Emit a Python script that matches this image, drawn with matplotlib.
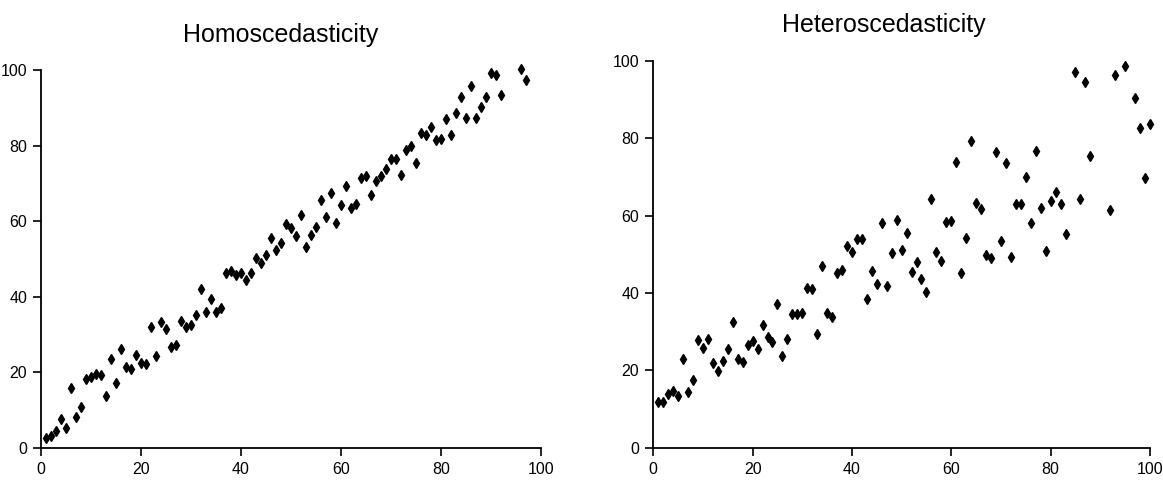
import matplotlib
matplotlib.use('Agg')
import matplotlib.pyplot as plt
from matplotlib import font_manager

# Data
homo_x = list(range(1, 93)) + [96, 97]
homo_y = [2.6, 3.2, 4.3, 7.7, 5.3, 15.9, 8.0, 10.9, 18.2, 18.8,
          19.4, 19.2, 13.7, 23.6, 17.1, 26.0, 21.3, 20.8, 24.5, 22.5,
          22.2, 32.0, 24.2, 33.4, 31.4, 26.6, 27.1, 33.5, 31.9, 32.4,
          35.0, 41.9, 35.8, 39.4, 35.9, 37.1, 46.2, 46.9, 45.8, 46.2,
          44.5, 46.3, 50.1, 49.0, 51.0, 55.4, 52.3, 54.3, 59.1, 58.1,
          56.1, 61.6, 53.2, 56.3, 58.5, 65.6, 61.2, 67.4, 59.4, 64.3,
          69.3, 63.5, 64.5, 71.3, 71.8, 66.9, 70.6, 71.8, 73.8, 76.4,
          76.4, 72.2, 78.8, 79.9, 75.3, 83.2, 82.8, 84.8, 81.5, 81.7,
          86.9, 82.8, 88.7, 92.8, 87.2, 95.8, 87.2, 90.3, 92.8, 99.1,
          98.7, 93.4, 100.2, 97.4]

hetero_x = [x for x in range(1, 101) if x not in (84, 89, 90, 91, 94, 96)]
hetero_y = [11.9, 11.9, 14.0, 14.7, 13.4, 22.8, 14.3, 17.5, 27.8, 25.8,
            28.2, 22.0, 19.9, 22.5, 25.4, 32.4, 22.8, 22.1, 26.5, 27.6,
            25.4, 31.7, 28.7, 27.3, 37.1, 23.8, 28.0, 34.5, 34.5, 34.7,
            41.3, 41.0, 29.4, 47.0, 34.9, 33.7, 45.2, 45.9, 52.1, 50.5,
            53.8, 53.8, 38.3, 45.7, 42.2, 58.0, 41.8, 50.2, 58.8, 51.1,
            55.6, 45.3, 48.1, 43.5, 40.3, 64.3, 50.5, 48.3, 58.4, 58.6,
            73.8, 45.2, 54.3, 79.3, 63.3, 61.7, 49.8, 48.9, 76.3, 53.4,
            73.6, 49.4, 62.9, 63.1, 69.9, 58.0, 76.7, 61.9, 50.8, 63.7,
            66.1, 63.1, 55.1, 97.0, 64.2, 94.6, 75.5, 61.3, 96.3, 98.7,
            90.4, 82.5, 69.8, 83.6]

ticks = [0, 20, 40, 60, 80, 100]

installed = {f.name for f in font_manager.fontManager.ttflist}
narrow = 'Liberation Sans Narrow' if 'Liberation Sans Narrow' in installed else 'Liberation Sans'
plt.rcParams['font.family'] = [narrow, 'DejaVu Sans']

fig = plt.figure(figsize=(11.63, 4.88), dpi=100)
ax1 = fig.add_axes([0.0353, 0.0826, 0.4299, 0.774])
ax2 = fig.add_axes([0.5617, 0.0826, 0.4271, 0.793])

for ax, x, y in [(ax1, homo_x, homo_y), (ax2, hetero_x, hetero_y)]:
    ax.plot(x, y, linestyle='none', marker='d', markersize=5.3,
            markeredgewidth=1.0, color='black', clip_on=False)
    ax.set_xlim(0, 100)
    ax.set_ylim(0, 100)
    ax.set_xticks(ticks)
    ax.set_yticks(ticks)
    for s in ['top', 'right']:
        ax.spines[s].set_visible(False)
    for s in ['left', 'bottom']:
        ax.spines[s].set_linewidth(1.3)
    ax.tick_params(direction='out', length=6, width=1.2, labelsize=11.5, pad=4)

fig.text(0.2412, 0.914, 'Homoscedasticity', fontsize=18, ha='center', va='baseline')
fig.text(0.7597, 0.934, 'Heteroscedasticity', fontsize=18, ha='center', va='baseline')

fig.savefig('out.png', dpi=100)
